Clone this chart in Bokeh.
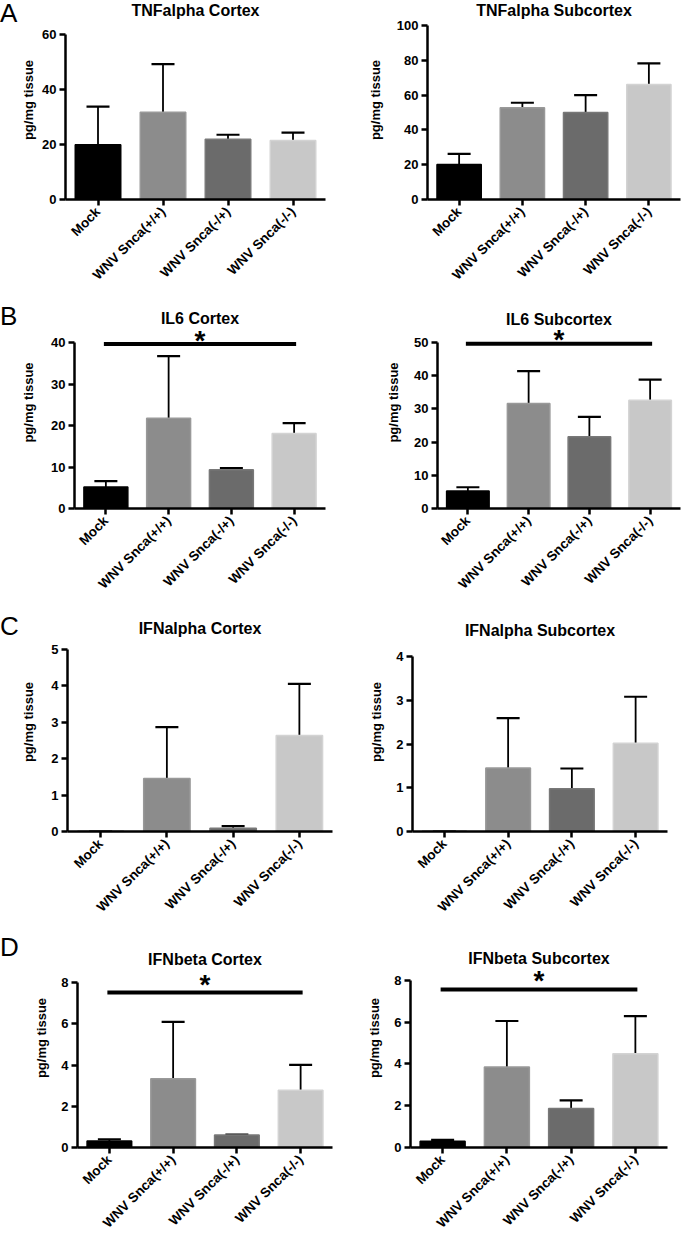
from math import pi
from bokeh.plotting import figure
from bokeh.layouts import row, column
from bokeh.models import (Range1d, FactorRange, FixedTicker, Label, Whisker, TeeHead,
                          ColumnDataSource, Div)
from bokeh.embed import file_html
from bokeh.resources import INLINE

# ---------------- data ----------------
categories = ["Mock", "WNV Snca(+/+)", "WNV Snca(-/+)", "WNV Snca(-/-)"]
bar_colors = ["#000000", "#8c8c8c", "#6b6b6b", "#c8c8c8"]
bar_edges = ["#000000", "#999999", "#787878", "#d3d3d3"]

tnf_cortex_mean = [19.9, 31.7, 21.9, 21.4]
tnf_cortex_err = [13.8, 17.4, 1.6, 2.9]
tnf_cortex_ticks = [0, 20, 40, 60]

tnf_sub_mean = [20.1, 52.7, 50.0, 66.1]
tnf_sub_err = [6.1, 2.9, 10.0, 12.1]
tnf_sub_ticks = [0, 20, 40, 60, 80, 100]

il6_cortex_mean = [5.2, 21.8, 9.35, 18.1]
il6_cortex_err = [1.4, 15.0, 0.4, 2.5]
il6_cortex_ticks = [0, 10, 20, 30, 40]
il6_cortex_sig = 39.7

il6_sub_mean = [5.3, 31.6, 21.6, 32.6]
il6_sub_err = [1.1, 9.8, 6.0, 6.2]
il6_sub_ticks = [0, 10, 20, 30, 40, 50]
il6_sub_sig = 49.6

ifna_cortex_mean = [0.0, 1.45, 0.09, 2.63]
ifna_cortex_err = [0.0, 1.41, 0.06, 1.42]
ifna_cortex_ticks = [0, 1, 2, 3, 4, 5]

ifna_sub_mean = [0.0, 1.45, 0.98, 2.02]
ifna_sub_err = [0.0, 1.14, 0.46, 1.06]
ifna_sub_ticks = [0, 1, 2, 3, 4]

ifnb_cortex_mean = [0.31, 3.33, 0.61, 2.77]
ifnb_cortex_err = [0.09, 2.76, 0.02, 1.24]
ifnb_cortex_ticks = [0, 2, 4, 6, 8]
ifnb_cortex_sig = 7.52

ifnb_sub_mean = [0.30, 3.85, 1.87, 4.48]
ifnb_sub_err = [0.06, 2.20, 0.38, 1.80]
ifnb_sub_ticks = [0, 2, 4, 6, 8]
ifnb_sub_sig = 7.55

titles = ["TNFalpha Cortex", "TNFalpha Subcortex", "IL6 Cortex", "IL6 Subcortex",
          "IFNalpha Cortex", "IFNalpha Subcortex", "IFNbeta Cortex", "IFNbeta Subcortex"]
letters = ["A", "B", "C", "D"]
y_label = "pg/mg tissue"

FONT = "Liberation Sans"
LETTER_W = 18

# ---------------- layout / style per panel ----------------
# (width, height, border_left, border_right, top_gap, border_bottom, title_offset,
#  ylabel_standoff, star_offset)
geom = [
    (342 - LETTER_W, 296, 60 - LETTER_W, 17, 34, 95, 24, 3, None),
    (342, 296, 85, 4, 25, 97, 15, 11, None),
    (342 - LETTER_W, 316, 72 - LETTER_W, 17, 47, 101, 24, 12, 9),
    (342, 316, 95, 4, 46, 104, 23, 10, 9),
    (342 - LETTER_W, 316, 67 - LETTER_W, 10, 38, 89, 21, 12, None),
    (342, 316, 70, 17, 44, 97, 26, 9, None),
    (342 - LETTER_W, 316, 77 - LETTER_W, 10, 54, 97, 23, 9, 13),
    (342, 316, 68, 17, 55, 83, 22, 9, 14),
]
# vertical centre of each panel letter, px from the top of its row
letter_y = [13, 20, 14, 19]

data = [
    (tnf_cortex_mean, tnf_cortex_err, tnf_cortex_ticks, None),
    (tnf_sub_mean, tnf_sub_err, tnf_sub_ticks, None),
    (il6_cortex_mean, il6_cortex_err, il6_cortex_ticks, il6_cortex_sig),
    (il6_sub_mean, il6_sub_err, il6_sub_ticks, il6_sub_sig),
    (ifna_cortex_mean, ifna_cortex_err, ifna_cortex_ticks, None),
    (ifna_sub_mean, ifna_sub_err, ifna_sub_ticks, None),
    (ifnb_cortex_mean, ifnb_cortex_err, ifnb_cortex_ticks, ifnb_cortex_sig),
    (ifnb_sub_mean, ifnb_sub_err, ifnb_sub_ticks, ifnb_sub_sig),
]


def make_panel(i):
    mean, err, ticks, sig = data[i]
    W, H, bl, br, gap, bb, t_off, lab_so, star_off = geom[i]
    ymax = ticks[-1]
    plot_h = H - bb - gap          # pixel height of the 0..ymax span
    # frame reaches the top of the canvas so the title and star are drawn inside it;
    # the y axis itself is bounded to 0..ymax
    y_end = ymax * (H - bb) / plot_h
    p = figure(width=W, height=H, output_backend="svg", toolbar_location=None,
               x_range=FactorRange(factors=categories, range_padding=0),
               y_range=Range1d(0, y_end),
               min_border_left=bl, min_border_right=br, min_border_top=0, min_border_bottom=bb)
    p.outline_line_color = None
    p.xgrid.visible = False
    p.ygrid.visible = False
    p.background_fill_color = "white"
    p.border_fill_color = "white"

    src = ColumnDataSource(dict(x=categories, top=mean, color=bar_colors, edge=bar_edges,
                                upper=[m + e for m, e in zip(mean, err)]))
    p.vbar(x="x", top="top", width=0.7, source=src, fill_color="color", line_color="edge",
           line_width=1.5)
    p.add_layout(Whisker(source=src, base="x", lower="top", upper="upper", dimension="height",
                         line_width=1.8, line_color="black",
                         upper_head=TeeHead(size=23, line_width=2.2, line_color="black"),
                         lower_head=None))

    if sig is not None:
        p.segment(x0=[categories[0]], y0=[sig], x1=[categories[-1]], y1=[sig],
                  line_width=4, line_color="black", line_cap="square")
        p.add_layout(Label(x=2.0, y=sig, text="*", text_align="center", text_baseline="alphabetic",
                           y_offset=star_off - 5, text_font=FONT, text_font_style="bold",
                           text_font_size="28px", text_color="black"))

    p.add_layout(Label(x=2.0, y=ymax, text=titles[i], text_align="center", text_baseline="middle",
                       y_offset=t_off, text_font=FONT, text_font_style="bold",
                       text_font_size="16px", text_color="black"))

    for ax in (p.xaxis[0], p.yaxis[0]):
        ax.axis_line_width = 2.5
        ax.axis_line_color = "black"
        ax.major_tick_line_width = 2.5
        ax.major_tick_line_color = "black"
        ax.major_tick_out = 6
        ax.major_tick_in = 0
        ax.minor_tick_line_color = None
        ax.major_label_text_font = FONT
        ax.major_label_text_font_style = "bold"
        ax.major_label_text_font_size = "13px"
        ax.major_label_text_color = "black"
    p.yaxis.ticker = FixedTicker(ticks=ticks)
    p.yaxis.bounds = (0, ymax)
    p.yaxis.major_label_standoff = 3
    p.yaxis.axis_label = y_label
    p.yaxis.axis_label_text_font = FONT
    p.yaxis.axis_label_text_font_style = "bold"
    p.yaxis.axis_label_text_font_size = "13px"
    p.yaxis.axis_label_text_color = "black"
    p.yaxis.axis_label_standoff = lab_so
    p.xaxis.major_label_orientation = pi / 4
    p.xaxis.major_label_standoff = 4
    p.xaxis.major_label_text_font_size = "13.5px"
    return p


def make_letter(r):
    H = geom[2 * r][1]
    return Div(text=letters[r], width=LETTER_W, height=H, margin=0,
               styles={"font-family": FONT, "font-size": "26px", "line-height": "26px",
                       "padding-top": f"{letter_y[r] - 13}px", "color": "black",
                       "background": "white"})


figs = [make_panel(i) for i in range(8)]
layout = column(*[row(make_letter(r), figs[2 * r], figs[2 * r + 1]) for r in range(4)],
                spacing=0)

with open("out.html", "w") as f:
    f.write(file_html(layout, INLINE, "Cytokines"))
